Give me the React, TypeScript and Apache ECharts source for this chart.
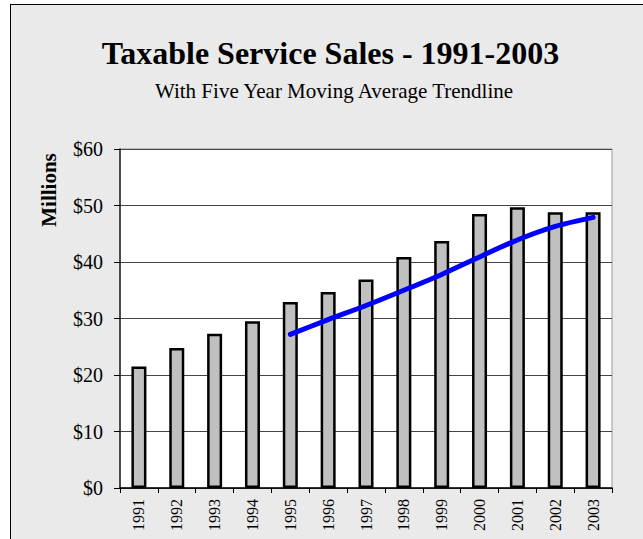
import React, { useEffect, useRef } from "react";
import * as echarts from "echarts";

const years = ["1991", "1992", "1993", "1994", "1995", "1996", "1997", "1998", "1999", "2000", "2001", "2002", "2003"];
const sales = [21.5, 24.8, 27.3, 29.5, 32.9, 34.7, 36.9, 40.9, 43.7, 48.5, 49.7, 48.8, 48.8];
const movingAvg = [null, null, null, null, 27.2, 29.8, 32.3, 35.0, 37.8, 40.9, 43.9, 46.3, 47.9];
const titleText = "Taxable Service Sales - 1991-2003";
const subtitleText = "With Five Year Moving Average Trendline";
const yAxisTitle = "Millions";

const SERIF = "'Liberation Serif', 'Times New Roman', serif";

export default function App() {
  const ref = useRef<HTMLDivElement>(null);
  useEffect(() => {
    if (!ref.current) return;
    const chart = echarts.init(ref.current, null, { renderer: "svg" });
    chart.setOption({
      animation: false,
      backgroundColor: "transparent",
      grid: {
        left: 120,
        top: 149,
        right: 31,
        bottom: 51,
        show: true,
        backgroundColor: "#ffffff",
        borderColor: "#999999",
        borderWidth: 1,
      },
      graphic: [
        {
          type: "text",
          x: 330.5,
          y: 53,
          style: {
            text: titleText,
            font: `bold 32px ${SERIF}`,
            fill: "#000",
            textAlign: "center",
            textVerticalAlign: "middle",
          },
        },
        {
          type: "text",
          x: 334,
          y: 91,
          style: {
            text: subtitleText,
            font: `21px ${SERIF}`,
            fill: "#000",
            textAlign: "center",
            textVerticalAlign: "middle",
          },
        },
        {
          type: "text",
          x: 49,
          y: 190,
          rotation: Math.PI / 2,
          style: {
            text: yAxisTitle,
            font: `bold 21px ${SERIF}`,
            fill: "#000",
            textAlign: "center",
            textVerticalAlign: "middle",
          },
        },
      ],
      xAxis: {
        type: "category",
        data: years,
        axisLine: { show: true, lineStyle: { color: "#000", width: 1.5 } },
        axisTick: { show: true, inside: false, length: 5, lineStyle: { color: "#000" } },
        axisLabel: {
          rotate: 90,
          margin: 11,
          fontFamily: SERIF,
          fontSize: 16,
          color: "#000",
        },
        splitLine: { show: false },
      },
      yAxis: {
        type: "value",
        min: 0,
        max: 60,
        interval: 10,
        axisLine: { show: true, lineStyle: { color: "#222", width: 1.5 } },
        axisTick: { show: true, inside: false, length: 6, lineStyle: { color: "#000" } },
        axisLabel: {
          margin: 17,
          fontFamily: SERIF,
          fontSize: 20,
          color: "#000",
          formatter: (v: number) => `$${v}`,
        },
        splitLine: { show: true, lineStyle: { color: "#444", width: 1 } },
      },
      series: [
        {
          type: "bar",
          data: sales,
          barWidth: 15,
          itemStyle: { color: "#c0c0c0", borderColor: "#000", borderWidth: 2.5 },
          z: 2,
        },
        {
          type: "line",
          data: movingAvg,
          smooth: 0.3,
          showSymbol: false,
          symbol: "none",
          lineStyle: { color: "#0000ff", width: 5, cap: "round", join: "round" },
          z: 3,
        },
      ],
    });
    return () => chart.dispose();
  }, []);

  return (
    <div style={{ position: "fixed", left: 0, top: 0, width: 643, height: 539, background: "#fff", overflow: "hidden" }}>
      <div
        style={{
          position: "absolute",
          left: 10,
          top: 4,
          width: 640,
          height: 600,
          border: "1px solid #000",
          background: "#eaeaea",
          boxSizing: "border-box",
        }}
      />
      <div ref={ref} style={{ position: "absolute", left: 0, top: 0, width: 643, height: 539 }} />
    </div>
  );
}
